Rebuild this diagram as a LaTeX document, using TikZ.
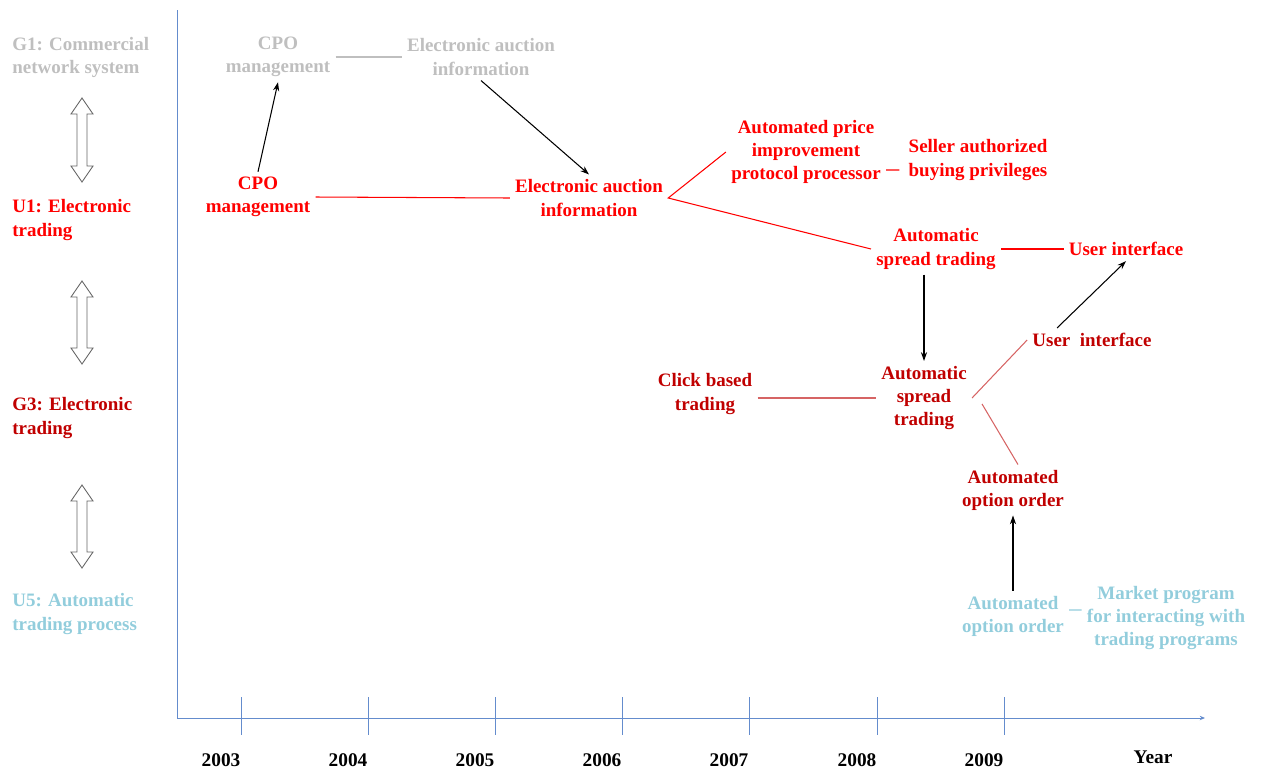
\documentclass[tikz,border=0pt]{standalone}
\usepackage{fontspec}
\setmainfont{Liberation Serif}
\usetikzlibrary{arrows.meta, positioning}
\definecolor{layergray}{RGB}{191,191,191}
\definecolor{layerred}{RGB}{255,0,0}
\definecolor{layerdark}{RGB}{192,0,0}
\definecolor{layerblue}{RGB}{146,205,220}
\definecolor{axisblue}{RGB}{100,140,205}
\definecolor{linkdark}{RGB}{214,100,100}
\tikzset{
  topic/.style={
    font=\fontsize{10.8}{13.1}\selectfont\bfseries,
    align=center, inner sep=0.1cm
  },
  gone/.style={topic, text=layergray},
  uone/.style={topic, text=layerred},
  gthree/.style={topic, text=layerdark},
  ufive/.style={topic, text=layerblue},
  layer/.style={anchor=west, align=left},
  link/.style={line width=0.6pt},
  arrow/.style={-{Stealth[length=5pt, width=3.5pt]}, line width=0.6pt, black},
  hollow/.style={draw=black!60, fill=white, line width=0.5pt},
  axis/.style={draw=axisblue, line width=0.5pt},
  yearlbl/.style={font=\fontsize{11}{13}\selectfont\bfseries, inner sep=0pt}
}

\begin{document}
\begin{tikzpicture}[x=0.02cm, y=-0.02cm]
  \useasboundingbox (0,0) rectangle (1262,775);

  % Layer column
  \node[gone, layer]   (lg1) at (7,57)  {G1: Commercial\\network system};
  \node[uone, layer]   (lu1) at (7,220) {U1: Electronic\\trading};
  \node[gthree, layer] (lg3) at (7,418) {G3: Electronic\\trading};
  \node[ufive, layer]  (lu5) at (7,614) {U5: Automatic\\trading process};

  % Hollow double arrows between layers
  \foreach \t/\b in {98/182, 281/364, 485/568}
    \draw[hollow] (82,\t) -- (93,\t+16) -- (87,\t+16) -- (87,\b-16) -- (93,\b-16)
      -- (82,\b) -- (71,\b-16) -- (77,\b-16) -- (77,\t+16) -- (71,\t+16) -- cycle;

  % Axes
  \coordinate (ytop)   at (177,10);
  \coordinate (origin) at (177,718);
  \coordinate (xend)   at (1205,718);
  \draw[axis] (ytop) -- (origin);
  \draw[axis, -{Stealth[length=3pt, width=2.5pt]}] (origin) -- (xend);
  \foreach \x/\yr in {241/2003, 368/2004, 495/2005, 622/2006, 749/2007, 877/2008, 1004/2009} {
    \draw[axis] (\x,697) -- (\x,735);
    \node[yearlbl] (yr\yr) at (\x-20,760) {\yr};
  }
  \node[yearlbl] (yearname) at (1153,757) {Year};

  % G1 row
  \node[gone] (cpog) at (278,57) {CPO\\management};
  \node[gone] (eag)  at (481,57) {Electronic auction\\information};

  % U1 row
  \node[uone] (cpou)   at (258,197) {CPO\\management};
  \node[uone] (eau)    at (589,198) {Electronic auction\\information};
  \node[uone] (apipp)  at (806,152) {Automated price\\improvement\\protocol processor};
  \node[uone] (seller) at (978,160) {Seller authorized\\buying privileges};
  \node[uone] (astu)   at (936,249) {Automatic\\spread trading};
  \node[uone] (uiu)    at (1126,249) {User interface};

  % G3 row
  \node[gthree] (click) at (705,394)  {Click based\\trading};
  \node[gthree] (astg)  at (924,398)  {Automatic\\spread\\trading};
  \node[gthree] (uig)   at (1092,340) {User\ \ interface};
  \node[gthree] (aoog)  at (1013,490) {Automated\\option order};

  % U5 row
  \node[ufive] (aoou)   at (1013,616) {Automated\\option order};
  \node[ufive] (market) at (1166,618) {Market program\\for interacting with\\trading programs};

  % Links within rows
  \draw[link, layergray] (cpog.east) -- (eag.west);
  \draw[link, layerred] (cpou.east) -- (eau.west);
  \draw[link, layerred] (apipp.west) -- (eau.east) -- (astu.west);
  \draw[link, layerred] ([yshift=-0.36cm]apipp.east) -- ([yshift=-0.2cm, xshift=-0.08cm]seller.west);
  \draw[link, layerred] (astu.east) -- (uiu.west);
  \draw[link, linkdark] (click.east |- astg.west) -- (astg.west);
  \draw[link, linkdark] (astg.east) -- (uig.west);
  \draw[link, linkdark] ([yshift=-0.12cm, xshift=0.2cm]astg.east) -- ([xshift=0.1cm]aoog.north);
  \draw[link, layerblue] ([yshift=0.12cm]aoou.east) -- ([yshift=0.16cm]market.west);

  % Evolution arrows
  \draw[arrow] (cpou.north) -- (cpog.south);
  \draw[arrow] (eag.south) -- (eau.north);
  \draw[arrow] (astg.north |- astu.south) -- (astg.north);
  \draw[arrow] ([xshift=0.6cm]uig.north west) -- (uiu.south);
  \draw[arrow] (aoou.north) -- (aoog.south);
\end{tikzpicture}
\end{document}
